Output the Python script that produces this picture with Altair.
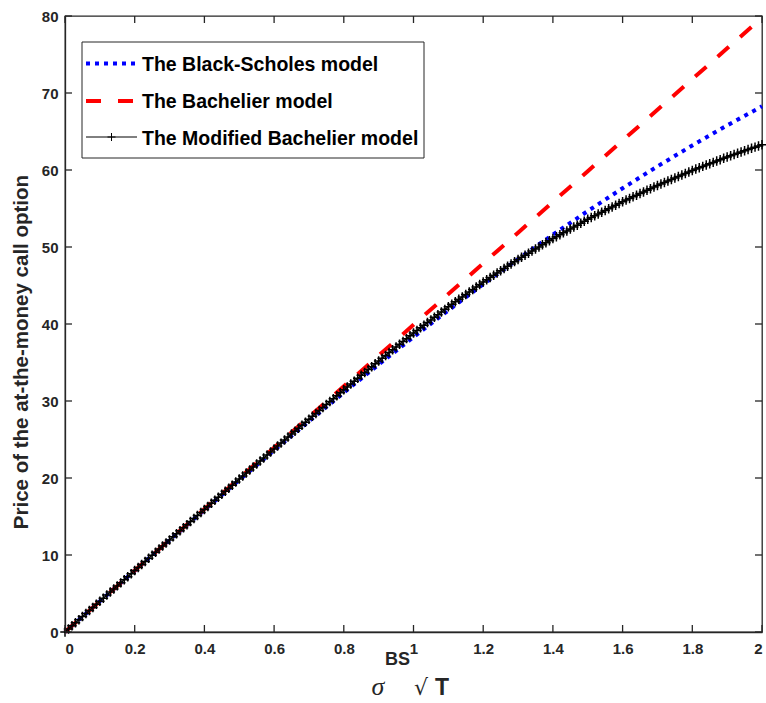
import altair as alt
import pandas as pd

# ---------------- data ----------------
x_coarse = [0.0, 0.1, 0.2, 0.3, 0.4, 0.5, 0.6, 0.7, 0.8, 0.9, 1.0,
            1.1, 1.2, 1.3, 1.4, 1.5, 1.6, 1.7, 1.8, 1.9, 2.0]

black_scholes = [0.00, 3.99, 7.97, 11.92, 15.85, 19.74, 23.58, 27.37, 31.08, 34.73, 38.29,
                 41.77, 45.15, 48.43, 51.61, 54.67, 57.63, 60.47, 63.19, 65.79, 68.27]

bachelier = [0.00, 3.99, 7.98, 11.97, 15.96, 19.95, 23.94, 27.92, 31.91, 35.90, 39.89,
             43.88, 47.87, 51.86, 55.85, 59.84, 63.83, 67.82, 71.81, 75.80, 79.79]

x_fine = [round(i * 0.01, 2) for i in range(201)]

modified_bachelier = [
    0.00, 0.40, 0.80, 1.20, 1.60, 2.00, 2.39, 2.79, 3.19, 3.59,
    3.99, 4.39, 4.79, 5.19, 5.59, 5.99, 6.38, 6.78, 7.18, 7.58,
    7.98, 8.38, 8.78, 9.17, 9.57, 9.97, 10.37, 10.77, 11.16, 11.56,
    11.96, 12.36, 12.75, 13.15, 13.54, 13.94, 14.34, 14.73, 15.13, 15.52,
    15.92, 16.31, 16.71, 17.10, 17.50, 17.89, 18.28, 18.68, 19.07, 19.47,
    19.86, 20.25, 20.64, 21.03, 21.42, 21.81, 22.20, 22.59, 22.98, 23.37,
    23.76, 24.15, 24.53, 24.92, 25.31, 25.70, 26.08, 26.47, 26.86, 27.24,
    27.63, 28.01, 28.39, 28.78, 29.16, 29.54, 29.92, 30.30, 30.69, 31.07,
    31.45, 31.83, 32.20, 32.58, 32.95, 33.33, 33.70, 34.08, 34.45, 34.83,
    35.20, 35.56, 35.92, 36.29, 36.65, 37.01, 37.37, 37.73, 38.10, 38.46,
    38.82, 39.16, 39.50, 39.85, 40.19, 40.53, 40.87, 41.21, 41.56, 41.90,
    42.24, 42.56, 42.88, 43.20, 43.52, 43.84, 44.16, 44.48, 44.80, 45.12,
    45.44, 45.74, 46.03, 46.33, 46.62, 46.92, 47.21, 47.51, 47.80, 48.10,
    48.39, 48.66, 48.93, 49.20, 49.47, 49.74, 50.01, 50.28, 50.55, 50.82,
    51.09, 51.34, 51.59, 51.84, 52.09, 52.34, 52.59, 52.84, 53.09, 53.34,
    53.59, 53.82, 54.05, 54.28, 54.51, 54.74, 54.97, 55.20, 55.43, 55.66,
    55.89, 56.10, 56.31, 56.52, 56.73, 56.94, 57.15, 57.36, 57.57, 57.78,
    57.99, 58.19, 58.38, 58.58, 58.77, 58.97, 59.16, 59.36, 59.55, 59.75,
    59.94, 60.12, 60.29, 60.47, 60.64, 60.82, 60.99, 61.17, 61.34, 61.52,
    61.69, 61.85, 62.01, 62.17, 62.33, 62.49, 62.65, 62.81, 62.97, 63.13,
    63.29,
]

x_ticks = [0, 0.2, 0.4, 0.6, 0.8, 1.0, 1.2, 1.4, 1.6, 1.8, 2.0]
y_ticks = [0, 10, 20, 30, 40, 50, 60, 70, 80]

legend_labels = ["The Black-Scholes model", "The Bachelier model", "The Modified Bachelier model"]
y_title = "Price of the at-the-money call option"

# ---------------- frames ----------------
df_bs = pd.DataFrame({"x": x_coarse, "y": black_scholes})
df_ba = pd.DataFrame({"x": x_coarse, "y": bachelier})
df_mb = pd.DataFrame({"x": x_fine, "y": modified_bachelier})
df_xt = pd.DataFrame({"t": x_ticks})
df_yt = pd.DataFrame({"t": y_ticks})

W, H = 697, 616
FONT = "Liberation Sans"
AX = "#262626"
PLUS = "M-1,0L1,0M0,-1L0,1"

xs = alt.Scale(domain=[0, 2], nice=False, zero=False)
ys = alt.Scale(domain=[0, 80], nice=False, zero=False)
xaxis = alt.Axis(values=x_ticks, format="~g", title=None, ticks=False, tickSize=0,
                 grid=False, labelPadding=9, labelFontSize=15, labelFontWeight="bold",
                 labelFont=FONT, labelColor=AX, domainColor=AX, domainWidth=1.3)
yaxis = alt.Axis(values=y_ticks, format="d", title=None, ticks=False, tickSize=0,
                 grid=False, labelPadding=7, labelFontSize=15, labelFontWeight="bold",
                 labelFont=FONT, labelColor=AX, domainColor=AX, domainWidth=1.3)


def X(f="x"):
    return alt.X(f"{f}:Q", scale=xs, axis=xaxis)


def Y(f="y"):
    return alt.Y(f"{f}:Q", scale=ys, axis=yaxis)


bs_line = alt.Chart(df_bs).mark_line(color="#0000FF", strokeWidth=4, strokeDash=[4, 5],
                                     strokeCap="butt").encode(x=X(), y=Y())
ba_line = alt.Chart(df_ba).mark_line(color="#FF0000", strokeWidth=4, strokeDash=[15, 15],
                                     strokeCap="butt").encode(x=X(), y=Y())
mb_line = alt.Chart(df_mb).mark_line(color="black", strokeWidth=1.5).encode(x=X(), y=Y())
mb_pts = alt.Chart(df_mb).mark_point(shape=PLUS, filled=False, size=90, color="black",
                                     strokeWidth=1.5, opacity=1).encode(x=X(), y=Y())

# inward ticks (MATLAB box style)
tk = dict(color=AX, strokeWidth=1.3)
xt_bottom = alt.Chart(df_xt).mark_rule(**tk).encode(x=X("t"), y=alt.value(H), y2=alt.value(H - 7))
xt_top = alt.Chart(df_xt).mark_rule(**tk).encode(x=X("t"), y=alt.value(0), y2=alt.value(7))
yt_left = alt.Chart(df_yt).mark_rule(**tk).encode(y=Y("t"), x=alt.value(0), x2=alt.value(7))
yt_right = alt.Chart(df_yt).mark_rule(**tk).encode(y=Y("t"), x=alt.value(W), x2=alt.value(W - 7))

one = alt.Data(values=[{"k": 0}])

# legend
leg_box = alt.Chart(one).mark_rect(fill="white", stroke=AX, strokeWidth=1).encode(
    x=alt.value(17), x2=alt.value(359), y=alt.value(26), y2=alt.value(142))
leg_bs = alt.Chart(one).mark_rule(color="#0000FF", strokeWidth=4, strokeDash=[4, 5],
                                  strokeCap="butt").encode(
    x=alt.value(21), x2=alt.value(71), y=alt.value(47.5))
leg_ba = alt.Chart(one).mark_rule(color="#FF0000", strokeWidth=4, strokeDash=[15, 17],
                                  strokeCap="butt").encode(
    x=alt.value(21), x2=alt.value(71), y=alt.value(85))
leg_mb = alt.Chart(one).mark_rule(color="black", strokeWidth=1).encode(
    x=alt.value(21), x2=alt.value(72), y=alt.value(121))
leg_mb_pt = alt.Chart(one).mark_point(shape=PLUS, filled=False, size=64, color="black",
                                      strokeWidth=1, opacity=1).encode(
    x=alt.value(46.5), y=alt.value(121))

leg_texts = []
for lab, yb in zip(legend_labels, [54.7, 92.3, 129.3]):
    leg_texts.append(
        alt.Chart(alt.Data(values=[{"t": lab}])).mark_text(
            align="left", baseline="alphabetic", font=FONT, fontSize=19.5,
            fontWeight="bold", color="black").encode(
            text="t:N", x=alt.value(77), y=alt.value(yb)))

# axis titles
ytitle = alt.Chart(alt.Data(values=[{"t": y_title}])).mark_text(
    angle=270, align="center", baseline="middle", font=FONT, fontSize=20.5,
    fontWeight="bold", color=AX).encode(text="t:N", x=alt.value(-43), y=alt.value(336))

sig = alt.Chart(alt.Data(values=[{"t": "σ"}])).mark_text(
    align="center", baseline="alphabetic", font="Liberation Serif", fontSize=26,
    fontStyle="italic", color=AX).encode(text="t:N", x=alt.value(313), y=alt.value(679))
bs_sup = alt.Chart(alt.Data(values=[{"t": "BS"}])).mark_text(
    align="left", baseline="alphabetic", font=FONT, fontSize=18, fontWeight="bold",
    color=AX).encode(text="t:N", x=alt.value(320), y=alt.value(649))
sqrt_t = alt.Chart(alt.Data(values=[{"t": "√"}])).mark_text(
    align="left", baseline="alphabetic", font="DejaVu Sans", fontSize=22,
    color=AX).encode(text="t:N", x=alt.value(349), y=alt.value(679))
t_txt = alt.Chart(alt.Data(values=[{"t": "T"}])).mark_text(
    align="left", baseline="alphabetic", font=FONT, fontSize=23, fontWeight="bold",
    color=AX).encode(text="t:N", x=alt.value(370), y=alt.value(679))

chart = alt.layer(
    bs_line, ba_line, mb_line, mb_pts,
    xt_bottom, xt_top, yt_left, yt_right,
    leg_box, leg_bs, leg_ba, leg_mb, leg_mb_pt, *leg_texts,
    ytitle, sig, bs_sup, sqrt_t, t_txt,
).properties(
    width=W, height=H,
    autosize=alt.AutoSizeParams(type="none"),
    padding={"left": 65, "top": 16, "right": 4, "bottom": 71},
    background="white",
).configure_view(stroke=AX, strokeWidth=1.3)

chart.save("out.html", embed_options={"renderer": "svg", "actions": False})
